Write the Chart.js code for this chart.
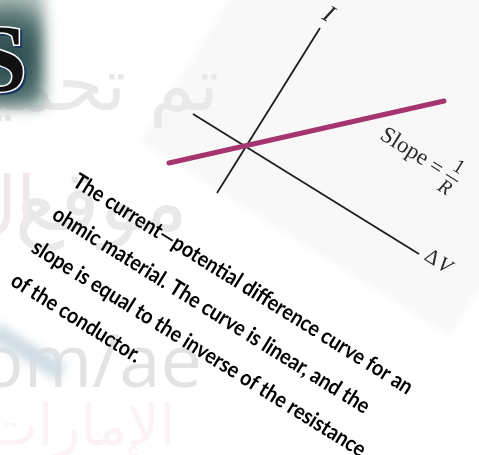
<!DOCTYPE html>
<html>
<head>
<meta charset="utf-8">
<script src="https://cdn.jsdelivr.net/npm/chart.js@4.4.0/dist/chart.umd.min.js"></script>
<style>
html, body { margin: 0; padding: 0; background: #fff; }
canvas { display: block; }
</style>
</head>
<body>
<canvas id="ohmic_chart" width="479" height="455"></canvas>
<script>
"use strict";

// Figure data, in page units (x to the right, y downwards)
var currentAxis = [{ x: 217, y: 193 }, { x: 320, y: 28 }];
var voltageAxis = [{ x: 193, y: 114 }, { x: 419, y: 254 }];
var ohmicLine = [{ x: 169, y: 163 }, { x: 444, y: 101 }];

// Texts
var axisLabels = ['I', 'Δ', 'V'];
var slopeLabel = ['Slope', '=', '1', 'R'];
var captionLines = [
    'The current—potential difference curve for an',
    'ohmic material. The curve is linear, and the',
    'slope is equal to the inverse of the resistance',
    'of the conductor.'
];
var watermarkLines = ['تم', 'تحميل هذا الملف', 'موقع', 'ال', 'almanahj.com/ae', 'الإمارات'];

// Layout (not data)
var TILT = 32 * Math.PI / 180;
var U = { x: Math.cos(TILT), y: Math.sin(TILT) };    // along the tilted text
var N = { x: -Math.sin(TILT), y: Math.cos(TILT) };   // perpendicular, downwards

var FigureChart = function () {
    function toPx(chart, p) {
        return {
            x: chart.scales.x.getPixelForValue(p.x),
            y: chart.scales.y.getPixelForValue(p.y)
        };
    }

    function tiltedText(ctx, text, c, font, color) {
        ctx.save();
        ctx.translate(c.x, c.y);
        ctx.rotate(TILT);
        ctx.font = font;
        ctx.fillStyle = color;
        ctx.textAlign = 'center';
        ctx.textBaseline = 'middle';
        ctx.fillText(text, 0, 0);
        ctx.restore();
    }

    function drawBackdrop(chart) {
        var ctx = chart.ctx;
        ctx.save();
        ctx.fillStyle = '#ffffff';
        ctx.fillRect(0, 0, chart.width, chart.height);

        // faint tilted panel behind the figure
        var a = toPx(chart, { x: 140, y: 142 });
        var b = toPx(chart, { x: 450, y: 336 });
        ctx.save();
        ctx.filter = 'blur(3px)';
        ctx.fillStyle = '#f8f8f8';
        ctx.beginPath();
        ctx.moveTo(a.x, a.y);
        ctx.lineTo(b.x, b.y);
        ctx.lineTo(b.x - 400 * N.x, b.y - 400 * N.y);
        ctx.lineTo(a.x - 400 * N.x, a.y - 400 * N.y);
        ctx.closePath();
        ctx.fill();
        ctx.restore();

        // watermark
        ctx.fillStyle = '#e9e9e9';
        ctx.textAlign = 'right';
        ctx.textBaseline = 'alphabetic';
        ctx.font = '74px "DejaVu Sans"';
        ctx.fillText(watermarkLines[0], 219, 110);
        ctx.fillText(watermarkLines[1], 126, 110);
        ctx.font = '84px "DejaVu Sans"';
        ctx.fillText(watermarkLines[2], 188, 230);
        ctx.fillStyle = '#f1e8ea';
        ctx.font = '70px "DejaVu Sans"';
        ctx.fillText(watermarkLines[3], 36, 226);
        ctx.fillStyle = '#e3e3e3';
        ctx.font = '74px "Open Sans"';
        ctx.fillText(watermarkLines[4], 202, 387);
        ctx.fillStyle = 'rgba(222, 160, 175, 0.12)';
        ctx.font = '56px "DejaVu Sans"';
        ctx.fillText(watermarkLines[5], 175, 445);

        // blurred blue streak
        ctx.save();
        ctx.filter = 'blur(5px)';
        ctx.fillStyle = '#d0dce4';
        ctx.translate(28, 352);
        ctx.rotate(TILT);
        ctx.fillRect(-40, -9, 80, 18);
        ctx.restore();

        // logo block
        ctx.save();
        ctx.filter = 'blur(7px)';
        var g = ctx.createRadialGradient(8, 58, 4, 8, 58, 62);
        g.addColorStop(0, '#27474a');
        g.addColorStop(0.6, '#4d6c6c');
        g.addColorStop(1, '#b0bfbd');
        ctx.fillStyle = g;
        ctx.fillRect(-20, -12, 64, 120);
        ctx.restore();

        ctx.save();
        ctx.font = 'bold 96px "Liberation Serif"';
        ctx.textAlign = 'right';
        ctx.textBaseline = 'alphabetic';
        ctx.shadowColor = '#1b3a63';
        ctx.shadowOffsetX = 2;
        ctx.shadowOffsetY = 2;
        ctx.lineWidth = 3;
        ctx.strokeStyle = '#ffffff';
        ctx.strokeText('S', 27, 91);
        ctx.shadowColor = 'transparent';
        ctx.fillStyle = '#111111';
        ctx.fillText('S', 27, 91);
        ctx.restore();

        ctx.restore();
    }

    function drawLabels(chart) {
        var ctx = chart.ctx;
        var serif = '"Liberation Serif", "DejaVu Serif", serif';

        // axis names
        tiltedText(ctx, axisLabels[0], toPx(chart, { x: 328, y: 15 }), 'italic 25px ' + serif, '#2a2a2a');
        tiltedText(ctx, axisLabels[1], toPx(chart, { x: 432, y: 258 }), '21px ' + serif, '#2a2a2a');
        tiltedText(ctx, axisLabels[2], toPx(chart, { x: 444, y: 266 }), 'italic 21px ' + serif, '#2a2a2a');

        // slope note: Slope = 1/R
        var bar = toPx(chart, { x: 452, y: 178 });
        function at(du, dn) {
            return { x: bar.x + du * U.x + dn * N.x, y: bar.y + du * U.y + dn * N.y };
        }
        tiltedText(ctx, slopeLabel[0], at(-57, -1), '23px ' + serif, '#2a2a2a');
        tiltedText(ctx, slopeLabel[1], at(-19, 0), '22px ' + serif, '#2a2a2a');
        tiltedText(ctx, slopeLabel[2], at(0, -12.5), '20px ' + serif, '#2a2a2a');
        tiltedText(ctx, slopeLabel[3], at(-1, 12.5), 'italic 20px ' + serif, '#2a2a2a');
        ctx.save();
        ctx.strokeStyle = '#2a2a2a';
        ctx.lineWidth = 1.2;
        ctx.beginPath();
        ctx.moveTo(at(-7, 0).x, at(-7, 0).y);
        ctx.lineTo(at(7, 0).x, at(7, 0).y);
        ctx.stroke();
        ctx.restore();

        // caption, squeezed so the first line spans the measured length
        ctx.save();
        var size = 22;
        ctx.font = 'bold ' + size + 'px Lato';
        var squeeze = 396 / ctx.measureText(captionLines[0]).width;
        var start = toPx(chart, { x: 80, y: 173 });
        ctx.translate(start.x, start.y);
        ctx.rotate(TILT);
        ctx.scale(squeeze, 1);
        ctx.fillStyle = '#000';
        ctx.textAlign = 'left';
        ctx.textBaseline = 'alphabetic';
        captionLines.forEach(function (line, i) {
            ctx.fillText(line, -1, size * 0.68 + i * 39);
        });
        ctx.restore();
    }

    var initFigureChart = function () {
        var element = document.getElementById('ohmic_chart');
        if (!element) {
            return;
        }

        var config = {
            type: 'scatter',
            data: {
                datasets: [{
                    label: 'Ohmic material',
                    data: ohmicLine,
                    showLine: true,
                    borderColor: '#a5356f',
                    borderWidth: 5,
                    borderCapStyle: 'round',
                    pointRadius: 0
                }, {
                    label: 'I',
                    data: currentAxis,
                    showLine: true,
                    borderColor: '#1e1e1e',
                    borderWidth: 1.8,
                    pointRadius: 0
                }, {
                    label: 'ΔV',
                    data: voltageAxis,
                    showLine: true,
                    borderColor: '#1e1e1e',
                    borderWidth: 1.8,
                    pointRadius: 0
                }]
            },
            options: {
                responsive: false,
                animation: false,
                events: [],
                layout: { padding: 0 },
                scales: {
                    x: { type: 'linear', min: 0, max: 479, display: false },
                    y: { type: 'linear', min: 0, max: 455, reverse: true, display: false }
                },
                plugins: {
                    legend: { display: false },
                    tooltip: { enabled: false }
                }
            },
            plugins: [{
                id: 'figureDecor',
                beforeDraw: drawBackdrop,
                afterDatasetsDraw: drawLabels
            }]
        };

        element.chartInstance = new Chart(element.getContext('2d'), config);
    };

    return {
        init: function () {
            initFigureChart();
        }
    };
}();

FigureChart.init();
</script>
</body>
</html>
